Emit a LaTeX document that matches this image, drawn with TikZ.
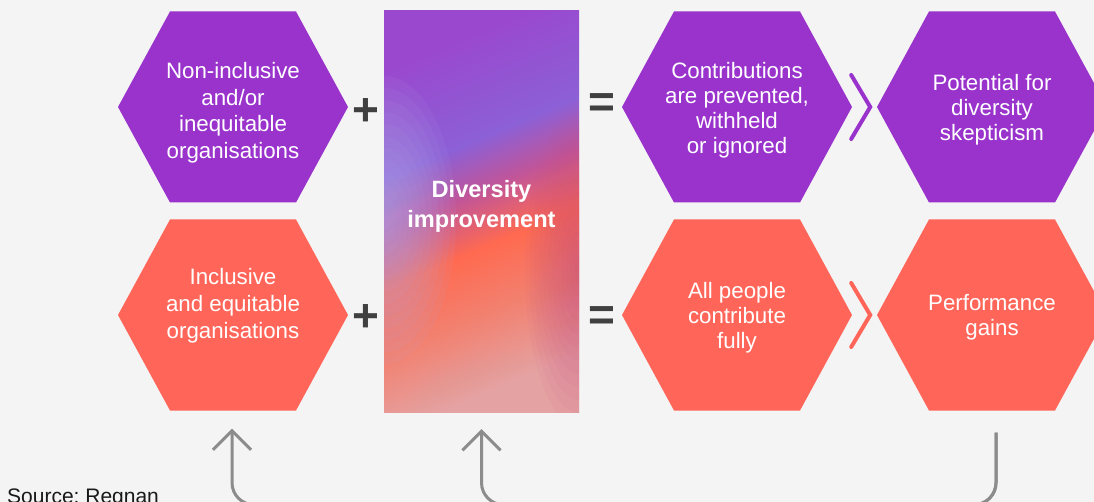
\documentclass[tikz,border=0pt]{standalone}
\usepackage{fontspec}
\setmainfont{Liberation Sans}
\usetikzlibrary{arrows.meta}

\definecolor{hexpurple}{HTML}{9933CC}
\definecolor{hexcoral}{HTML}{FF6659}
\definecolor{bggray}{HTML}{F4F4F4}
\definecolor{loopgray}{HTML}{8C8C8C}
\definecolor{signgray}{HTML}{404040}
\definecolor{divpurple}{HTML}{9A48CE}
\definecolor{divviolet}{HTML}{8C60D6}
\definecolor{divmagenta}{HTML}{C0559A}
\definecolor{divorange}{HTML}{FF6A50}
\definecolor{divsalmon}{HTML}{F2806F}
\definecolor{divpink}{HTML}{E5A2A2}
\definecolor{divlav}{HTML}{B4ACEA}
\definecolor{divmag}{HTML}{C44C82}

\pgfdeclareverticalshading{divshade}{100bp}{color(0bp)=(divpink); color(25bp)=(divpink);
  color(36bp)=(divsalmon); color(45bp)=(divorange); color(53bp)=(divmagenta);
  color(60bp)=(divviolet); color(75bp)=(divpurple); color(100bp)=(divpurple)}

\begin{document}
\begin{tikzpicture}[x=1pt,y=-1pt,
    hexa/.style={minimum width=230pt,minimum height=191pt,inner sep=0pt,align=center,text=white,
      font=\fontsize{22.3}{25}\selectfont,text depth=0pt,
      path picture={\fill[#1] (path picture bounding box.west)
        -- ([xshift=52pt]path picture bounding box.north west)
        -- ([xshift=-52pt]path picture bounding box.north east)
        -- (path picture bounding box.east)
        -- ([xshift=-52pt]path picture bounding box.south east)
        -- ([xshift=52pt]path picture bounding box.south west) -- cycle;}},
    widelines/.style={font=\fontsize{22.3}{26.7}\selectfont},
    divbox/.style={minimum width=195pt,minimum height=401pt,inner sep=0pt,align=center,text=white,
      font=\fontsize{23.6}{30}\selectfont\bfseries,text depth=14.6pt},
    sign/.style={font=\fontsize{46}{46}\selectfont\bfseries,text=signgray,inner sep=0pt},
    chev/.style={draw=#1,line width=4pt,line cap=round,line join=miter},
    loopline/.style={draw=loopgray,line width=3pt,rounded corners=22pt,
      -{Straight Barb[length=19pt,width=38pt]}}]
  \useasboundingbox (0,0) rectangle (1094,502);
  \clip (0,0) rectangle (1094,502);
  \fill[bggray] (0,0) rectangle (1094,502);

  \begin{scope}
    \clip (384,11) rectangle (579,412);
    \shade[shading=divshade,shading angle=23] (384,11) rectangle (579,412);
    \foreach \k in {1,...,12} {
      \fill[divlav,opacity=.08] (384,220) ellipse ({\k*6pt} and {\k*12pt});
      \fill[divmag,opacity=.06] (579,270) ellipse ({\k*4.5pt} and {\k*13pt});
      \fill[divpink,opacity=.05] (500,412) ellipse ({\k*8pt} and {\k*5pt});
    }
  \end{scope}

  \node[hexa=hexpurple,widelines,text height=103pt] (noninc) at (233,107) {Non-inclusive\\and/or\\inequitable\\organisations};
  \node[hexa=hexcoral,widelines,text height=46.4pt] (incl) at (233,315) {Inclusive\\and equitable\\organisations};
  \node[divbox] (divimp) at (481.5,211.5) {Diversity\\improvement};
  \node[hexa=hexpurple,text height=92.4pt] (contrib) at (737,107) {Contributions\\are prevented,\\withheld\\or ignored};
  \node[hexa=hexcoral,text height=66.6pt] (allppl) at (737,315) {All people\\contribute\\fully};
  \node[hexa=hexpurple,text height=67.6pt] (skept) at (992,107) {Potential for\\diversity\\skepticism};
  \node[hexa=hexcoral,text height=40.6pt] (perf) at (992,315) {Performance\\gains};

  \node[sign] (plusa) at (365.7,112.5) {+};
  \node[sign] (plusb) at (365.7,318.5) {+};
  \node[sign] (eqa) at (601.5,105.5) {=};
  \node[sign] (eqb) at (601.5,319) {=};

  \draw[chev=hexpurple] ([shift={(-1,-32)}]contrib.east) -- ([xshift=18pt]contrib.east) -- ([shift={(-1,32)}]contrib.east);
  \draw[chev=hexcoral] ([shift={(-1,-32)}]allppl.east) -- ([xshift=18pt]allppl.east) -- ([shift={(-1,32)}]allppl.east);

  \coordinate (loopstart) at ([shift={(4,22)}]perf.south);
  \coordinate (loopendA) at ([shift={(-1,18)}]incl.south);
  \coordinate (loopendB) at ([yshift=-17pt]divimp.south);
  \draw[loopline] (loopstart) -- ++(0,72) -| (loopendA);
  \draw[loopline] (loopstart) -- ++(0,72) -| (loopendB);

  \node[anchor=base west,inner sep=0pt,font=\fontsize{21}{21}\selectfont\frenchspacing,text=black!90] (source) at (7,503) {Source: Regnan};
\end{tikzpicture}
\end{document}
